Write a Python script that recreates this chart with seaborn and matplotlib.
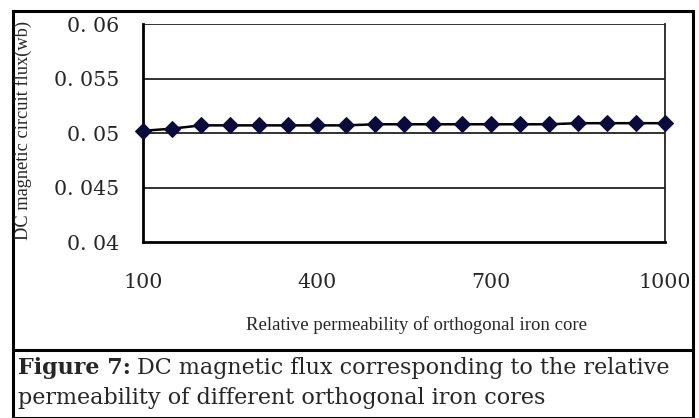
import matplotlib
matplotlib.use("Agg")
import matplotlib.pyplot as plt
import seaborn as sns
import pandas as pd
from matplotlib.patches import Rectangle
from matplotlib.lines import Line2D

# Data
permeability = [100, 150, 200, 250, 300, 350, 400, 450, 500, 550,
                600, 650, 700, 750, 800, 850, 900, 950, 1000]
flux = [0.0502, 0.0504, 0.0507, 0.0507, 0.0507, 0.0507, 0.0507, 0.0507, 0.0508, 0.0508,
        0.0508, 0.0508, 0.0508, 0.0508, 0.0508, 0.0509, 0.0509, 0.0509, 0.0509]
y_ticks = [0.04, 0.045, 0.05, 0.055, 0.06]
y_tick_labels = ["0. 04", "0. 045", "0. 05", "0. 055", "0. 06"]
x_ticks = [100, 400, 700, 1000]
x_tick_labels = ["100", "400", "700", "1000"]

sns.set_style("white")
plt.rcParams['font.family'] = ['Liberation Serif', 'DejaVu Serif']

W, H = 699, 418
fig = plt.figure(figsize=(W / 100, H / 100), dpi=100)
ax = fig.add_axes([143 / W, 1 - 242 / H, (665 - 143) / W, (242 - 24) / H])

df = pd.DataFrame({"perm": permeability, "flux": flux})
sns.lineplot(data=df, x="perm", y="flux", ax=ax, color="black", linewidth=1.8,
             marker="D", markersize=8, markerfacecolor="#0a0a3c",
             markeredgecolor="#0a0a3c", zorder=5, clip_on=False)

ax.set_xlim(100, 1000)
ax.set_ylim(0.04, 0.06)
ax.set_yticks(y_ticks)
ax.set_yticklabels(y_tick_labels, fontsize=14.8, family=['DejaVu Serif'])
ax.set_xticks(x_ticks)
ax.set_xticklabels(x_tick_labels, fontsize=14.8, family=['DejaVu Serif'])
ax.tick_params(axis="y", length=0, pad=17)
ax.tick_params(axis="x", direction="in", length=6, width=1.2, color="#333333", pad=22)
for gy in y_ticks[1:]:
    ax.axhline(gy, color="#222222", linewidth=1.3, zorder=1)
ax.grid(False)

for side in ["left", "bottom"]:
    ax.spines[side].set_color("black")
    ax.spines[side].set_linewidth(2.0)
ax.spines["right"].set_color("#222222")
ax.spines["right"].set_linewidth(1.3)
ax.spines["top"].set_visible(False)

ax.set_xlabel("")
ax.set_ylabel("")
fig.text(416 / W, 1 - 325 / H, "Relative permeability of orthogonal iron core",
         ha="center", va="center", fontsize=13.5)
fig.text(23 / W, 1 - 131 / H, "DC magnetic circuit flux(wb)", rotation=90,
         ha="center", va="center", fontsize=13.2)

# Frame boxes
fig.add_artist(Rectangle((13 / W, 0), (693 - 13) / W, (418 - 11) / H,
                         transform=fig.transFigure, fill=False,
                         edgecolor="black", linewidth=2.2))
fig.add_artist(Line2D([13 / W, 693 / W], [1 - 350 / H, 1 - 350 / H],
                      transform=fig.transFigure, color="black", linewidth=2.2))

cap_font = ['DejaVu Serif']
cap_size = 16
t1 = fig.text(18 / W, 1 - 368 / H, "Figure 7:", fontsize=cap_size, fontweight="bold",
              ha="left", va="center", family=cap_font)
renderer = fig.canvas.get_renderer()
bb = t1.get_window_extent(renderer=renderer)
fig.text((bb.x1 + 6) / W, 1 - 368 / H, "DC magnetic flux corresponding to the relative",
         fontsize=cap_size, ha="left", va="center", family=cap_font)
fig.text(18 / W, 1 - 398 / H, "permeability of different orthogonal iron cores",
         fontsize=cap_size, ha="left", va="center", family=cap_font)

fig.savefig("out.png", dpi=100)
